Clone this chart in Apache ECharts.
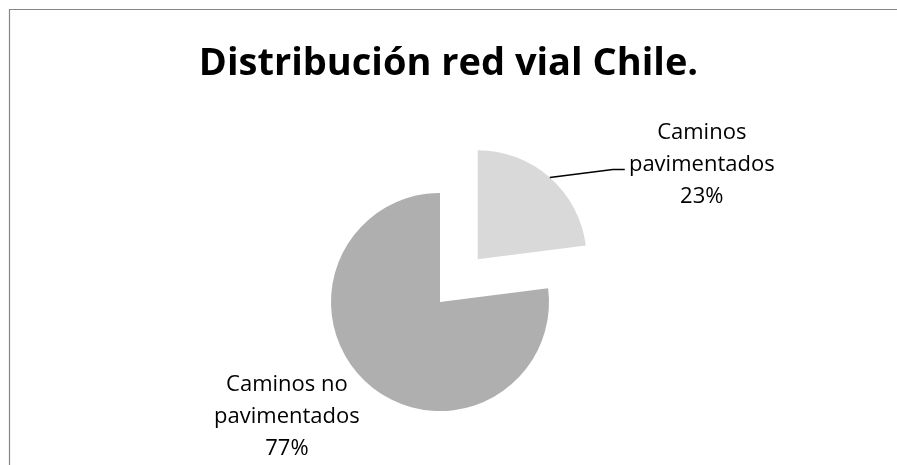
<!DOCTYPE html>
<html>
<head>
<meta charset="utf-8">
<script src="https://cdn.jsdelivr.net/npm/echarts@6/dist/echarts.min.js"></script>
<style>
  html, body { margin: 0; padding: 0; background: #ffffff; }
  #chart { width: 897px; height: 465px; }
</style>
</head>
<body>
<div id="chart"></div>
<script>
// Road network of Chile: share of paved vs unpaved roads (percent)
var categories = ['Caminos pavimentados', 'Caminos no pavimentados'];
var labelNames = ['Caminos\npavimentados', 'Caminos no\npavimentados'];
var shares = [23, 77];
var sliceColors = ['#d9d9d9', '#afafaf'];
var titleText = 'Distribución red vial Chile.';

var FONT = '"Open Sans", "Liberation Sans", sans-serif';

// pie geometry
var CX = 440, CY = 302, R = 109, EXPLODE = 57;

var chart = echarts.init(document.getElementById('chart'), null, { renderer: 'canvas' });

var total = shares.reduce(function (a, b) { return a + b; }, 0);

var pieData = categories.map(function (name, i) {
  return {
    name: name,
    value: shares[i],
    selected: i === 0,
    itemStyle: { color: sliceColors[i] },
    label: { show: i !== 0, formatter: labelNames[i] + '\n' + shares[i] + '%' },
    labelLine: { show: false }
  };
});

// Label of the detached slice: anchored at the outer edge of its mid angle,
// leader bends up-right to the text block.
var midA = (shares[0] / total) * Math.PI; // radians clockwise from 12 o'clock
var ax = CX + (EXPLODE + R) * Math.sin(midA);
var ay = CY - (EXPLODE + R) * Math.cos(midA);

chart.setOption({
  animation: false,
  backgroundColor: '#ffffff',
  title: {
    text: titleText,
    left: 'center',
    top: 40,
    textStyle: {
      fontFamily: FONT,
      fontWeight: 'bold',
      fontSize: 38,
      color: '#000000'
    }
  },
  graphic: [{
    type: 'rect',
    shape: { x: 9.5, y: 9.5, width: 1000, height: 1000 },
    style: { fill: 'none', stroke: '#868686', lineWidth: 1.2 },
    silent: true
  }, {
    type: 'polyline',
    shape: { points: [[ax, ay], [ax + 63, ay - 8], [ax + 75, ay - 8]] },
    style: { stroke: '#000000', lineWidth: 1.3, fill: 'none' },
    silent: true,
    z: 10
  }, {
    type: 'text',
    x: ax + 152,
    y: ay - 13,
    style: {
      text: labelNames[0] + '\n' + shares[0] + '%',
      font: '22px ' + FONT,
      lineHeight: 32,
      fill: '#000000',
      align: 'center',
      verticalAlign: 'middle'
    },
    silent: true,
    z: 10
  }],
  series: [{
    type: 'pie',
    center: [CX, CY],
    radius: [0, R],
    startAngle: 90,
    clockwise: true,
    selectedMode: 'single',
    selectedOffset: EXPLODE,
    avoidLabelOverlap: false,
    emphasis: { disabled: true },
    itemStyle: { borderWidth: 0 },
    label: {
      position: 'outside',
      fontFamily: FONT,
      fontSize: 22,
      lineHeight: 32,
      color: '#000000',
      align: 'center'
    },
    labelLayout: function (params) {
      var p = params.labelLinePoints && params.labelLinePoints[0];
      if (!p) return {};
      return {
        x: p[0] - 81,
        y: p[1] + 33,
        align: 'center',
        verticalAlign: 'middle'
      };
    },
    data: pieData
  }]
});
</script>
</body>
</html>
